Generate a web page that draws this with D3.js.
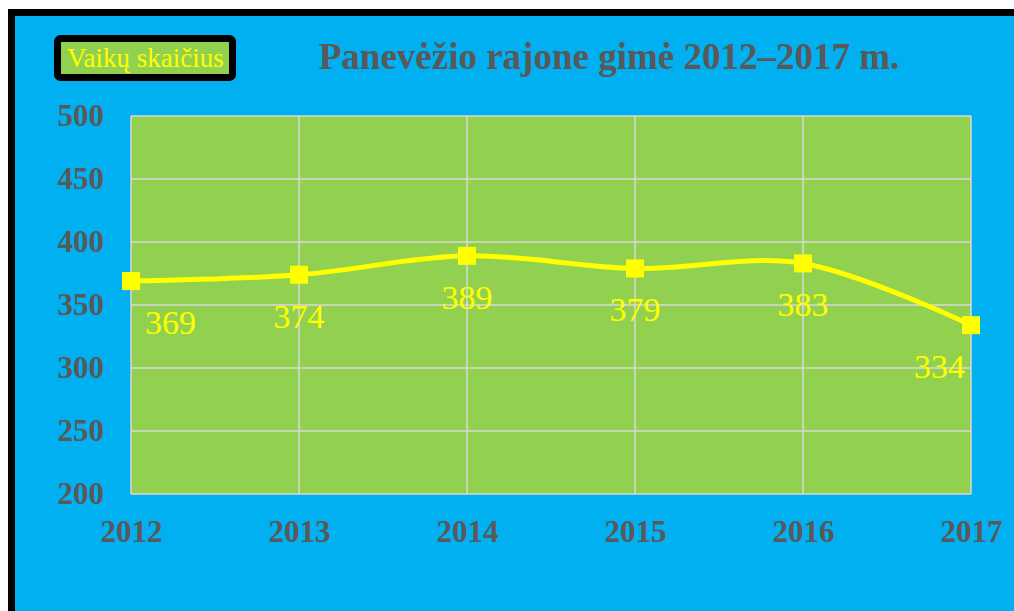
<!DOCTYPE html>
<html>
<head>
<meta charset="utf-8">
<script src="https://cdn.jsdelivr.net/npm/d3@7"></script>
<style>
  body { margin: 0; background: #fff; }
  svg { display: block; }
</style>
</head>
<body>
<div id="container"></div>
<script>
// data
const years = ["2012", "2013", "2014", "2015", "2016", "2017"];
const births = [369, 374, 389, 379, 383, 334];
const yTicks = [200, 250, 300, 350, 400, 450, 500];
const seriesName = "Vaikų skaičius";
const title = "Panevėžio rajone gimė 2012–2017 m.";

const width = 1014, height = 611;
const plot = {left: 131, right: 971, top: 116, bottom: 494};
const serif = "'Liberation Serif', 'Times New Roman', serif";
const grey = "#595959", yellow = "#FFFF00", green = "#92D050", blue = "#00B0F0";

const svg = d3.select("#container")
  .append("svg")
  .attr("width", width)
  .attr("height", height);

// frame: black border on top/left, blue background
svg.append("rect").attr("x", 8).attr("y", 9).attr("width", width).attr("height", height).attr("fill", "#000");
svg.append("rect").attr("x", 15).attr("y", 16).attr("width", width).attr("height", height).attr("fill", blue);

// scales
const x = d3.scalePoint()
  .domain(years)
  .range([plot.left, plot.right]);

const y = d3.scaleLinear()
  .domain([200, 500])
  .range([plot.bottom, plot.top]);

// plot area
svg.append("rect")
  .attr("x", plot.left).attr("y", plot.top)
  .attr("width", plot.right - plot.left).attr("height", plot.bottom - plot.top)
  .attr("fill", green);

// gridlines
svg.append("g")
  .selectAll("line.h")
  .data(yTicks)
  .join("line")
  .attr("x1", plot.left).attr("x2", plot.right)
  .attr("y1", d => y(d)).attr("y2", d => y(d))
  .attr("stroke", "#D9D9D9").attr("stroke-width", 1.5);

svg.append("g")
  .selectAll("line.v")
  .data(years)
  .join("line")
  .attr("x1", d => x(d)).attr("x2", d => x(d))
  .attr("y1", plot.top).attr("y2", plot.bottom)
  .attr("stroke", "#D9D9D9").attr("stroke-width", 1.5);

// y axis labels
const yAxis = d3.axisLeft(y).tickValues(yTicks).tickSize(0).tickPadding(27);
const gy = svg.append("g")
  .attr("transform", `translate(${plot.left},0)`)
  .call(yAxis);
gy.select(".domain").remove();
gy.selectAll("text")
  .attr("fill", grey)
  .style("font-family", serif)
  .style("font-size", "31px")
  .style("font-weight", "bold");

// x axis labels
const xAxis = d3.axisBottom(x).tickSize(0).tickPadding(26);
const gx = svg.append("g")
  .attr("transform", `translate(0,${plot.bottom})`)
  .call(xAxis);
gx.select(".domain").remove();
gx.selectAll("text")
  .attr("fill", grey)
  .style("font-family", serif)
  .style("font-size", "31px")
  .style("font-weight", "bold");

// line
const pts = years.map((yr, i) => ({year: yr, value: births[i]}));
const lineGen = d3.line()
  .x(d => x(d.year))
  .y(d => y(d.value))
  .curve(d3.curveCatmullRom.alpha(0.5));

svg.append("path")
  .datum(pts)
  .attr("fill", "none")
  .attr("stroke", yellow)
  .attr("stroke-width", 5)
  .attr("d", lineGen);

// markers
const m = 18;
svg.append("g")
  .selectAll("rect")
  .data(pts)
  .join("rect")
  .attr("x", d => x(d.year) - m / 2)
  .attr("y", d => y(d.value) - m / 2)
  .attr("width", m).attr("height", m)
  .attr("fill", yellow);

// data labels, below the point, kept inside the plot
svg.append("g")
  .selectAll("text")
  .data(pts)
  .join("text")
  .attr("x", d => x(d.year))
  .attr("y", d => y(d.value) + 53)
  .attr("text-anchor", "middle")
  .attr("fill", yellow)
  .style("font-family", serif)
  .style("font-size", "34px")
  .text(d => d.value)
  .each(function() {
    const t = d3.select(this);
    const w = this.getComputedTextLength();
    const cx = +t.attr("x");
    const lo = plot.left + 14 + w / 2, hi = plot.right - 6 - w / 2;
    t.attr("x", Math.max(lo, Math.min(hi, cx)));
  });

// legend
svg.append("rect")
  .attr("x", 57.5).attr("y", 38.5)
  .attr("width", 175).attr("height", 39)
  .attr("rx", 3)
  .attr("fill", green)
  .attr("stroke", "#000")
  .attr("stroke-width", 7);

svg.append("text")
  .attr("x", 67).attr("y", 67)
  .attr("fill", yellow)
  .style("font-family", serif)
  .style("font-size", "27px")
  .text(seriesName);

// title
svg.append("text")
  .attr("x", 609).attr("y", 69)
  .attr("text-anchor", "middle")
  .attr("fill", grey)
  .style("font-family", serif)
  .style("font-size", "37px")
  .style("font-weight", "bold")
  .text(title);
</script>
</body>
</html>
